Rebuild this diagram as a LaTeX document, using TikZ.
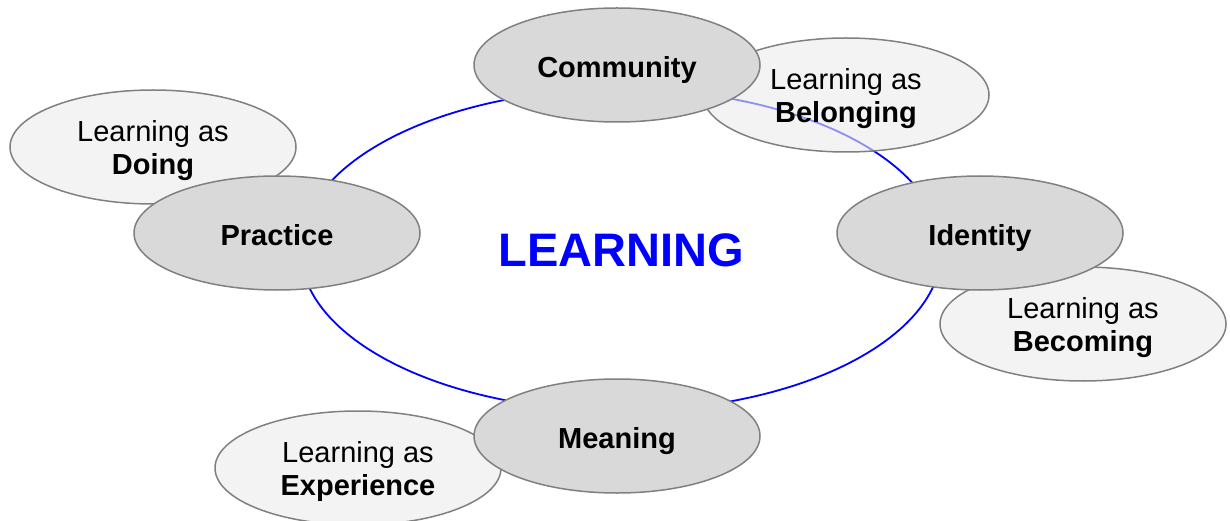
\documentclass[tikz,border=0pt]{standalone}
\usepackage{fontspec}
\setmainfont{Liberation Sans}
\usetikzlibrary{shapes.geometric}
\definecolor{rimgray}{RGB}{128,128,128}
\definecolor{hubfill}{RGB}{217,217,217}
\definecolor{sidefill}{RGB}{235,235,235}
\tikzset{
  hub/.style={ellipse,draw=rimgray,line width=1.5pt,fill=hubfill,minimum width=286pt,minimum height=114pt,inner sep=0pt,font=\fontsize{29}{32}\selectfont\bfseries,text height=25pt,text depth=0pt},
  side/.style={ellipse,draw=rimgray,line width=1.5pt,fill=sidefill,fill opacity=0.6,text opacity=1,minimum width=286pt,minimum height=114pt,inner sep=0pt,align=center,font=\fontsize{29}{33}\selectfont,text depth=0pt}
}
\begin{document}
\begin{tikzpicture}[x=1pt,y=-1pt]
            \useasboundingbox (0,0) rectangle (1230,521);
            \node[ellipse,draw=blue,line width=1.8pt,minimum width=641pt,minimum height=322pt,inner sep=0pt,text=blue,font=\fontsize{47}{50}\selectfont\bfseries](learning) at (621,250){LEARNING};
            \node[side](doing) at (153,147){Learning as\\\textbf{Doing}};
            \node[side](belonging) at (846,95){Learning as\\\textbf{Belonging}};
            \node[side](becoming) at (1083,324){Learning as\\\textbf{Becoming}};
            \node[side](experience) at (358,468){Learning as\\\textbf{Experience}};
            \node[hub](community) at (617,65){Community};
            \node[hub](practice) at (277,233){Practice};
            \node[hub](identity) at (980,233){Identity};
            \node[hub](meaning) at (617,436){Meaning};
        \end{tikzpicture}
\end{document}
